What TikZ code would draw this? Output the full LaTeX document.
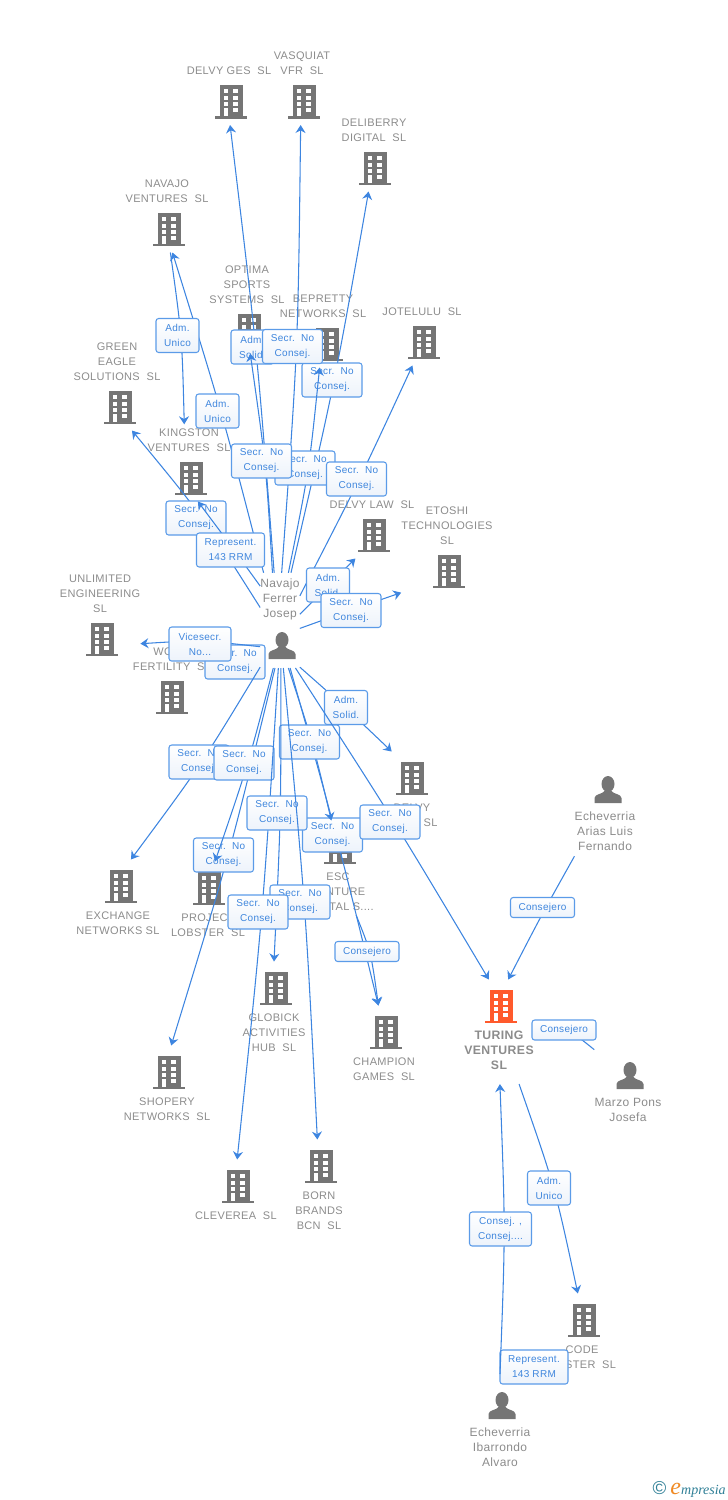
\documentclass[tikz,border=0pt]{standalone}
\usepackage{fontspec}
\setmainfont{Liberation Sans}[LetterSpace=3]
\newfontfamily\logofont{Liberation Serif}
\usetikzlibrary{arrows.meta}
\definecolor{linkblue}{HTML}{3D85E0}
\definecolor{boxblue}{HTML}{5B9BE8}
\definecolor{boxfade}{HTML}{EDF3FB}
\definecolor{relblue}{HTML}{3F86DD}
\definecolor{icongray}{HTML}{757575}
\definecolor{namegray}{HTML}{8C8C8C}
\definecolor{hotorange}{HTML}{FF5A2C}
\definecolor{logoteal}{HTML}{2F7F96}
\definecolor{logoorange}{HTML}{F08A24}
\newcommand{\iconup}{\\[21pt]\rule[-2.25pt]{0pt}{2.25pt}}
\newcommand{\guyup}{\\[19.5pt]\rule[-2.25pt]{0pt}{2.25pt}}
\newcommand{\icondown}{\rule{0pt}{29.25pt}\\[1.5pt]}
\tikzset{
	org/.style={text=namegray,font=\fontsize{8.25pt}{11.25pt}\selectfont,align=center,inner xsep=0pt,inner ysep=3pt},
	pers/.style={org,font=\fontsize{9pt}{11.25pt}\selectfont,inner ysep=4.5pt},
	link/.style={-{Stealth[length=6pt,width=7.5pt,inset=2pt]},draw=linkblue,line width=.8pt},
	rel/.style={draw=boxblue,line width=.8pt,rounded corners=2pt,top color=white,bottom color=boxfade,
		text=relblue,font=\fontsize{7.5pt}{11.25pt}\selectfont,align=center,inner sep=0pt,
		minimum width=#1,minimum height=25.5pt},
	rel/.default=45pt,
	bldg/.pic={
		\path[pic actions] (-11.5,-16.5) rectangle (11.5,15);
		\path[pic actions] (-16,14.5) rectangle (16,17);
		\foreach \wy in {-12.5,-5.5,.5,6.5}{
			\fill[white] (-7.2,\wy) rectangle (-2.8,\wy+4);
			\fill[white] (2.3,\wy) rectangle (6.7,\wy+4);
		}
		\fill[white] (-7.2,6.5) rectangle (-2.8,14.5);
	},
	guy/.pic={
		\path[pic actions] (0,-5) ellipse (6.5 and 8);
		\path[pic actions] (-13.5,14) -- (-13.5,9) .. controls (-13.5,5) and (-5,5) .. (-3.5,2)
			-- (3.5,2) .. controls (5,5) and (13.5,5) .. (13.5,9) -- (13.5,14) -- cycle;
	},
}
\begin{document}
\begin{tikzpicture}[x=.75pt,y=-.75pt]
	\useasboundingbox (0,0) rectangle (728,1500);

	\node[org,anchor=south] (delvyges) at (229,125) {DELVY GES\ \ SL\iconup};
	\pic[fill=icongray] at (231,101.5) {bldg};
	\node[org,anchor=south] (vasquiat) at (302,125) {VASQUIAT\\VFR\ \ SL\iconup};
	\pic[fill=icongray] at (304,101.5) {bldg};
	\node[org,anchor=south] (deliberry) at (374,191.5) {DELIBERRY\\DIGITAL\ \ SL\iconup};
	\pic[fill=icongray] at (375,168) {bldg};
	\node[org,anchor=south] (navajo) at (167,252.5) {NAVAJO\\VENTURES\ \ SL\iconup};
	\pic[fill=icongray] at (169,229) {bldg};
	\node[org,anchor=south] (optima) at (247,353.5) {OPTIMA\\SPORTS\\SYSTEMS\ \ SL\iconup};
	\pic[fill=icongray] at (249,330) {bldg};
	\node[org,anchor=south] (bepretty) at (323,367.5) {BEPRETTY\\NETWORKS\ \ SL\iconup};
	\pic[fill=icongray] at (327,344) {bldg};
	\node[org,anchor=south] (jotelulu) at (422,365.5) {JOTELULU\ \ SL\iconup};
	\pic[fill=icongray] at (424,342) {bldg};
	\node[org,anchor=south] (greeneagle) at (117,430.5) {GREEN\\EAGLE\\SOLUTIONS\ \ SL\iconup};
	\pic[fill=icongray] at (120,407) {bldg};
	\node[org,anchor=south] (kingston) at (189,501.5) {KINGSTON\\VENTURES\ \ SL\iconup};
	\pic[fill=icongray] at (191,478) {bldg};
	\node[org,anchor=south] (delvylaw) at (372,558.5) {DELVY LAW\ \ SL\iconup};
	\pic[fill=icongray] at (374,535) {bldg};
	\node[org,anchor=south] (etoshi) at (447,594.5) {ETOSHI\\TECHNOLOGIES\\SL\iconup};
	\pic[fill=icongray] at (449,571) {bldg};
	\node[org,anchor=south] (unlimited) at (100,662.5) {UNLIMITED\\ENGINEERING\\SL\iconup};
	\pic[fill=icongray] at (102,639) {bldg};
	\node[org,anchor=south] (woom) at (172,720.5) {WO\phantom{OM}\\FERTILITY\ \ SL\iconup};
	\pic[fill=icongray] at (172,697) {bldg};
	\node[org,anchor=north] (delvy) at (412,751.5) {\icondown DELVY\\\phantom{XXXX}\ \ SL};
	\pic[fill=icongray] at (412,778) {bldg};
	\node[org,anchor=north] (exchange) at (118,859.5) {\icondown EXCHANGE\\NETWORKS SL};
	\pic[fill=icongray] at (121,886) {bldg};
	\node[org,anchor=north] (lobster) at (208,861.5) {\icondown PROJECT\\LOBSTER\ \ SL};
	\pic[fill=icongray] at (209,888) {bldg};
	\node[org,anchor=north] (esc) at (338,820.5) {\icondown ESC\\VENTURE\\CAPITAL S....};
	\pic[fill=icongray] at (340,847) {bldg};
	\node[org,anchor=north] (globick) at (274,961.5) {\icondown GLOBICK\\ACTIVITIES\\HUB\ \ SL};
	\pic[fill=icongray] at (276,988) {bldg};
	\node[org,anchor=north] (champion) at (384,1005.5) {\icondown CHAMPION\\GAMES\ \ SL};
	\pic[fill=icongray] at (386,1032) {bldg};
	\node[org,anchor=north] (shopery) at (167,1045.5) {\icondown SHOPERY\\NETWORKS\ \ SL};
	\pic[fill=icongray] at (169,1072) {bldg};
	\node[org,anchor=north] (cleverea) at (236,1159.5) {\icondown CLEVEREA\ \ SL};
	\pic[fill=icongray] at (238,1186) {bldg};
	\node[org,anchor=north] (born) at (319,1139.5) {\icondown BORN\\BRANDS\\BCN\ \ SL};
	\pic[fill=icongray] at (321,1166) {bldg};
	\node[org,anchor=north,font=\fontsize{9.2pt}{11.25pt}\selectfont\bfseries] (turing) at (499,979.5)
		{\icondown TURING\\VENTURES\\SL\rule[-7.5pt]{0pt}{7.5pt}};
	\pic[fill=hotorange] at (501,1006) {bldg};
	\node[org,anchor=north] (code) at (582,1293.5) {\icondown CODE\\MASTER\ \ SL};
	\pic[fill=icongray] at (584,1320) {bldg};

	\node[pers,anchor=south] (josep) at (280,668) {Navajo\\Ferrer\\Josep\guyup};
	\pic[fill=icongray] at (282,645) {guy};
	\node[pers,anchor=north] (arias) at (605,758) {\icondown Echeverria\\Arias Luis\\Fernando};
	\pic[fill=icongray] at (608,789) {guy};
	\node[pers,anchor=north] (marzo) at (628,1044) {\icondown Marzo Pons\\Josefa};
	\pic[fill=icongray] at (630,1075) {guy};
	\node[pers,anchor=north] (alvaro) at (500,1374) {\icondown Echeverria\\Ibarrondo\\Alvaro};
	\pic[fill=icongray] at (502,1405) {guy};

	\draw[link] (josep.109) .. controls (222,412) .. (navajo.-82);
	\node[rel=32.25pt] (admnavajo) at (217.5,411) {Adm.\\Unico};
	\draw[link] (navajo.-85) .. controls (182,336) .. (kingston.97);
	\node[rel=32.25pt] (admkingston) at (177.5,335.5) {Adm.\\Unico};
	\draw[link] (josep.77) .. controls (335,382) .. (deliberry.-98);
	\draw[link] (josep.88) .. controls (298,349) .. (vasquiat.-92);
	\node[rel] (secrdeliberry) at (332,380) {Secr.\ \ No\\Consej.};
	\draw[link] (josep.80) .. controls (309,471) .. (bepretty.-95);
	\node[rel] (secrbepretty) at (305,468) {Secr.\ \ No\\Consej.};
	\draw[link] (josep.97) .. controls (257,349) .. (delvyges.-88);
	\node[rel=32.25pt] (admoptima) at (252.5,347) {Adm.\\Solid.};
	\draw[link] (josep.99) .. controls (266,464) .. (optima.-86);
	\node[rel] (secrdelvyges) at (261.5,461) {Secr.\ \ No\\Consej.};
	\node[rel] (secrvasquiat) at (292.5,346.5) {Secr.\ \ No\\Consej.};
	\draw[link] (josep.51) .. controls (360,479) .. (jotelulu.-107);
	\node[rel] (secrjotelulu) at (356.5,479) {Secr.\ \ No\\Consej.};
	\draw[link] (josep.147) .. controls (201,514) .. (greeneagle.-72);
	\node[rel] (secrgreen) at (196,518) {Secr.\ \ No\\Consej.};
	\draw[link] (josep.120) .. controls (229,543) .. (kingston.-77);
	\node[rel=51pt] (repkingston) at (230.5,550) {Represent.\\143 RRM};
	\draw[link] (josep.17) .. controls (325,588) .. (delvylaw.-118);
	\node[rel=32.25pt] (admdelvylaw) at (328,585) {Adm.\\Solid.};
	\draw[link] (josep.-22) .. controls (351,610) .. (etoshi.-136);
	\node[rel] (secretoshi) at (351,610.5) {Secr.\ \ No\\Consej.};
	\draw[link] (josep.-117) -- (woom.7);
	\node[rel] (secrwoom) at (235,662) {Secr.\ \ No\\Consej.};
	\draw[link] (josep.-127) .. controls (200,640) .. (unlimited.-34);
	\node[rel=46.5pt] (viceunlimited) at (200,644) {Vicesecr.\\No...};
	\draw[link] (josep.-67) .. controls (345,707) .. (delvy.117);
	\node[rel=32.25pt] (admdelvy) at (346,707.5) {Adm.\\Solid.};
	\draw[link] (josep.-113) .. controls (201,765) .. (exchange.72);
	\node[rel] (secrexchange) at (199,762) {Secr.\ \ No\\Consej.};
	\draw[link] (josep.-96) .. controls (229,857) .. (shopery.84);
	\node[rel] (secrshopery) at (223.5,855) {Secr.\ \ No\\Consej.};
	\draw[link] (josep.-98) .. controls (248,765) .. (lobster.80);
	\node[rel] (secrlobster) at (244,763) {Secr.\ \ No\\Consej.};
	\draw[link] (josep.-78) .. controls (337,836) .. (champion.98);
	\node[rel] (secrchampion) at (332.5,835) {Secr.\ \ No\\Consej.};
	\draw[link] (josep.-80) .. controls (313,743) .. (esc.98);
	\node[rel] (secresc) at (309.5,742) {Secr.\ \ No\\Consej.};
	\draw[link] (josep.-72) .. controls (395,822) .. (turing.101);
	\node[rel] (secrturing) at (390,822) {Secr.\ \ No\\Consej.};
	\draw[link] (josep.-89) .. controls (281,815) .. (globick.90);
	\draw[link] (josep.-92) .. controls (263,913) .. (cleverea.88);
	\node[rel] (secrglobick) at (277,813) {Secr.\ \ No\\Consej.};
	\draw[link] (josep.-86) .. controls (305.5,904) .. (born.92);
	\node[rel] (secrborn) at (300,902) {Secr.\ \ No\\Consej.};
	\node[rel] (secrcleverea) at (258,912) {Secr.\ \ No\\Consej.};
	\draw[link] (esc.-69) .. controls (371,952) .. (champion.98);
	\node[rel=48pt,minimum height=15pt] (conschampion) at (367,951.5) {Consejero};

	\draw[link] (arias.-122) .. controls (541,916) .. (turing.80);
	\node[rel=48pt,minimum height=15pt] (consarias) at (542.5,907.5) {Consejero};
	\draw[link] (marzo.133) .. controls (570,1030) .. (turing.3);
	\node[rel=48pt,minimum height=15pt] (consmarzo) at (564,1030) {Consejero};
	\draw[link] (turing.-69) .. controls (555,1187) .. (code.96);
	\node[rel=32.25pt] (admcode) at (549,1188) {Adm.\\Unico};
	\draw[link] (alvaro.80) -- (code.-151);
	\node[rel=51pt] (repcode) at (534,1367) {Represent.\\143 RRM};
	\draw[link] (alvaro.90) .. controls (505.5,1230) .. (turing.-89);
	\node[rel=46.5pt] (consturing) at (500.5,1229) {Consej. ,\\Consej....};

	\node[anchor=east,inner sep=0pt] (logo) at (726,1489)
		{\textcolor{logoteal}{\fontsize{14pt}{14pt}\selectfont©}\ {\logofont\itshape\fontsize{10.5pt}{12pt}\selectfont\textcolor{logoorange}{\fontsize{18pt}{12pt}\selectfont e}\textcolor{logoteal}{mpresia}}};
\end{tikzpicture}
\end{document}
